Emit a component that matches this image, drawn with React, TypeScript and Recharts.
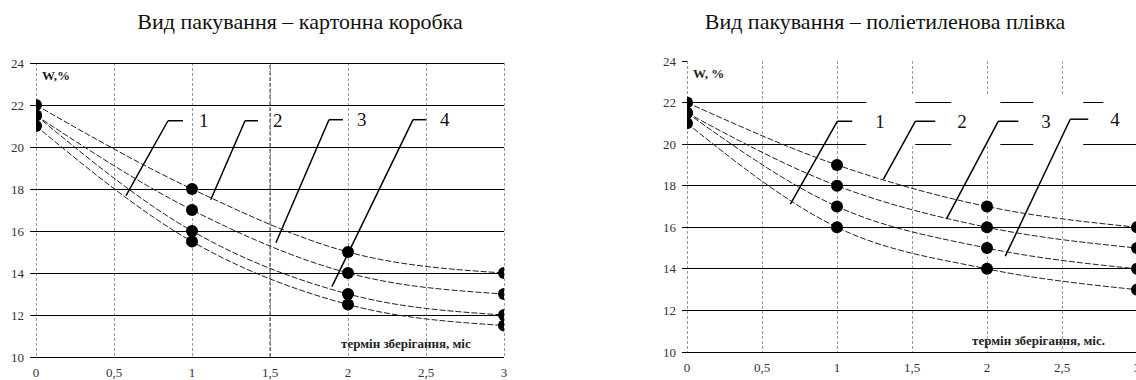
import React from "react";
import {
  LineChart, Line, XAxis, YAxis, CartesianGrid, ReferenceLine, ReferenceArea,
} from "recharts";

// ── data ──────────────────────────────────────────────────────────────────────

const months = [0, 1, 2, 3];

// картонна коробка
const boxCurve1 = [22, 18, 15, 14];
const boxCurve2 = [21.5, 17, 14, 13];
const boxCurve3 = [21.5, 16, 13, 12];
const boxCurve4 = [21, 15.5, 12.5, 11.5];

// поліетиленова плівка
const filmCurve1 = [22, 19, 17, 16];
const filmCurve2 = [21.5, 18, 16, 15];
const filmCurve3 = [21.5, 17, 15, 14];
const filmCurve4 = [21, 16, 14, 13];

const xTicks = [0, 0.5, 1, 1.5, 2, 2.5, 3];
const yTicks = [10, 12, 14, 16, 18, 20, 22, 24];
const boxGridY = [10, 12, 14, 16, 18, 20, 22, 24];
const filmGridY = [10, 12, 14, 16, 18, 20, 22];

const curveKeys = ["c1", "c2", "c3", "c4"];

const toRows = (curves: number[][]) =>
  months.map((m, i) => {
    const row: Record<string, number> = { month: m };
    curves.forEach((c, j) => (row[curveKeys[j]] = c[i]));
    return row;
  });

const boxRows = toRows([boxCurve1, boxCurve2, boxCurve3, boxCurve4]);
const filmRows = toRows([filmCurve1, filmCurve2, filmCurve3, filmCurve4]);

// ── annotation layout (data coords) ───────────────────────────────────────────

type Leader = { n: string; foot: [number, number]; knee: [number, number]; end: number; gap: number };

const boxLeaders: Leader[] = [
  { n: "1", foot: [0.577, 17.68], knee: [0.846, 21.25], end: 0.942, gap: 16 },
  { n: "2", foot: [1.12, 17.49], knee: [1.34, 21.25], end: 1.423, gap: 15 },
  { n: "3", foot: [1.538, 15.44], knee: [1.878, 21.3], end: 1.968, gap: 14 },
  { n: "4", foot: [1.897, 13.35], knee: [2.417, 21.3], end: 2.5, gap: 14 },
];

const filmLeaders: Leader[] = [
  { n: "1", foot: [0.689, 17.11], knee: [1.002, 21.1], end: 1.102, gap: 23 },
  { n: "2", foot: [1.309, 18.31], knee: [1.522, 21.1], end: 1.655, gap: 22 },
  { n: "3", foot: [1.729, 16.39], knee: [2.075, 21.1], end: 2.209, gap: 23 },
  { n: "4", foot: [2.122, 14.61], knee: [2.555, 21.2], end: 2.675, gap: 22 },
];

// white boxes behind the labels on the film chart
const filmLabelBoxes = [
  { x1: 1.195, x2: 1.522, y1: 19.9, y2: 22.35 },
  { x1: 1.762, x2: 2.089, y1: 19.9, y2: 22.35 },
  { x1: 2.309, x2: 2.642, y1: 19.9, y2: 22.35 },
  { x1: 2.776, x2: 3, y1: 20.1, y2: 22.35 },
];

const serif = "'Liberation Serif', 'Times New Roman', serif";
const fmt = (v: number) => String(v).replace(".", ",");

// ticks drawn by hand so the serif font sticks
const XTick = ({ x, y, payload }: any) => (
  <text x={x} y={y} dy="0.71em" textAnchor="middle" fill="#333" fontSize={13} fontFamily={serif}>
    {fmt(payload.value)}
  </text>
);
const YTick = ({ x, y, payload }: any) => (
  <text x={x} y={y} dy="0.35em" textAnchor="end" fill="#333" fontSize={13} fontFamily={serif}>
    {payload.value}
  </text>
);

function renderChart(
  rows: Record<string, number>[],
  gridY: number[],
  leaders: Leader[],
  opts: { width: number; height: number; margin: any; xHeight: number; tickSize: number; darkMid?: boolean; boxes?: typeof filmLabelBoxes },
) {
  return (
    <LineChart width={opts.width} height={opts.height} data={rows} margin={opts.margin}>
      <CartesianGrid
        verticalValues={xTicks}
        horizontal={false}
        stroke="#9a9a9a"
        strokeDasharray="3 2"
      />
      <CartesianGrid
        horizontalValues={gridY}
        vertical={false}
        stroke="#000"
        strokeWidth={1}
      />
      <XAxis
        type="number"
        dataKey="month"
        domain={[0, 3]}
        ticks={xTicks}
        allowDataOverflow
        axisLine={false}
        tickLine={false}
        tickSize={6}
        tickMargin={5}
        tick={<XTick />}
        height={opts.xHeight}
      />
      <YAxis
        type="number"
        domain={[10, 24]}
        ticks={yTicks}
        allowDataOverflow
        width={30}
        axisLine={false}
        tickLine={{ stroke: "#000" }}
        tickSize={opts.tickSize}
        tickMargin={6}
        tick={<YTick />}
      />
      {opts.darkMid && (
        <ReferenceLine x={1.5} stroke="#444" strokeDasharray="4 2" />
      )}
      {(opts.boxes ?? []).map((b, i) => (
        <ReferenceArea
          key={"b" + i}
          x1={b.x1} x2={b.x2} y1={b.y1} y2={b.y2}
          fill="#fff" fillOpacity={1} stroke="none" ifOverflow="hidden"
        />
      ))}
      {leaders.map((l) => (
        <ReferenceLine
          key={"s" + l.n}
          segment={[{ x: l.foot[0], y: l.foot[1] }, { x: l.knee[0], y: l.knee[1] }]}
          stroke="#000" strokeWidth={1.5} ifOverflow="visible"
        />
      ))}
      {leaders.map((l) => (
        <ReferenceLine
          key={"h" + l.n}
          segment={[{ x: l.knee[0], y: l.knee[1] }, { x: l.end, y: l.knee[1] }]}
          stroke="#000" strokeWidth={1.5} ifOverflow="visible"
          label={{ value: l.n, position: "right", offset: l.gap, fontSize: 19, fill: "#111", fontFamily: serif }}
        />
      ))}
      {curveKeys.map((k) => (
        <Line
          key={k}
          dataKey={k}
          type="monotone"
          stroke="#222"
          strokeWidth={1}
          strokeDasharray="6 2"
          dot={{ r: 6, fill: "#000", stroke: "none" }}
          activeDot={false}
          isAnimationActive={false}
        />
      ))}
    </LineChart>
  );
}

export default function App() {
  const title: React.CSSProperties = {
    position: "absolute", top: 9, fontFamily: serif, fontSize: 22, lineHeight: "26px",
    color: "#111", whiteSpace: "nowrap", transform: "translateX(-50%)",
  };
  const small: React.CSSProperties = {
    position: "absolute", fontFamily: serif, fontSize: 13, fontWeight: "bold",
    color: "#222", whiteSpace: "nowrap", lineHeight: "14px",
  };
  return (
    <div style={{ position: "absolute", left: 0, top: 0, width: 1136, height: 380, overflow: "hidden", background: "#fff" }}>
      <style>{`
        .recharts-cartesian-grid line,
        .recharts-cartesian-axis-tick-line { shape-rendering: crispEdges; }
      `}</style>
      <div style={{ ...title, left: 300 }}>Вид пакування – картонна коробка</div>
      <div style={{ ...title, left: 885 }}>Вид пакування – поліетиленова плівка</div>

      <div style={{ position: "absolute", left: 0, top: 0 }}>
        {renderChart(boxRows, boxGridY, boxLeaders, {
          width: 514, height: 380,
          margin: { top: 63, right: 10, bottom: 0, left: 6 },
          xHeight: 23, tickSize: 6, darkMid: true,
        })}
      </div>
      <div style={{ position: "absolute", left: 650, top: 0 }}>
        {renderChart(filmRows, filmGridY, filmLeaders, {
          width: 500, height: 380,
          margin: { top: 61, right: 13, bottom: 0, left: 7 },
          xHeight: 28, tickSize: 5, boxes: filmLabelBoxes,
        })}
      </div>

      <div style={{ ...small, left: 42, top: 69 }}>W,%</div>
      <div style={{ ...small, left: 693, top: 67 }}>W, %</div>
      <div style={{ ...small, left: 341, top: 337 }}>термін зберігання, міс</div>
      <div style={{ ...small, left: 972, top: 334 }}>термін зберігання, міс.</div>
    </div>
  );
}
